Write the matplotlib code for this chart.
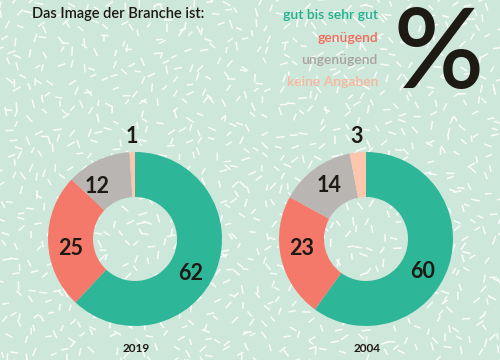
import numpy as np
import matplotlib.pyplot as plt
from matplotlib.collections import LineCollection

# Aggregate survey shares (%), clockwise from the top
categories = ["gut bis sehr gut", "genügend", "ungenügend", "keine Angaben"]
years = ["2019", "2004"]
values_2019 = [62, 25, 12, 1]
values_2004 = [60, 23, 14, 3]

colors = ["#2db697", "#f4796a", "#b9b5b2", "#fdc6ad"]
text_colors = ["#23b08f", "#f26a5a", "#a8a3a0", "#f9b79c"]
BG = "#cde7da"
DARK = "#1d1a14"
FONT = ["Lato", "DejaVu Sans"]

# small angle nudges (degrees) for the value labels, as in the original layout
nudges = [[-10, 7, 11, 0], [-12, -4, -1, 0]]

fig = plt.figure(figsize=(5, 3.6), dpi=100)
fig.patch.set_facecolor(BG)
ax = fig.add_axes([0, 0, 1, 1])
ax.set_facecolor(BG)
ax.axis("off")

# Decorative confetti-dash texture (jittered grid so it stays evenly spread)
rng = np.random.default_rng(11)
gx, gy = np.meshgrid(np.arange(-6, 510, 13), np.arange(-6, 370, 13))
x0 = gx.ravel() + rng.uniform(-6, 6, gx.size)
y0 = gy.ravel() + rng.uniform(-6, 6, gx.size)
ang = rng.uniform(0, np.pi, gx.size)
ln = rng.uniform(6, 9, gx.size)
segs = np.stack([
    np.column_stack([x0, y0]),
    np.column_stack([x0 + ln * np.cos(ang), y0 + ln * np.sin(ang)]),
], axis=1)
ax.add_collection(LineCollection(segs, colors="white", linewidths=1.1,
                                 alpha=0.9, zorder=0))

centers = [(135, 121), (366, 121)]
radius = 87
ring = 45

for vals, (cx, cy), year, nud in zip([values_2019, values_2004], centers,
                                     years, nudges):
    wedges, _ = ax.pie(vals, colors=colors, startangle=90, counterclock=False,
                       center=(cx, cy), radius=radius, frame=True,
                       wedgeprops=dict(width=ring, linewidth=0))
    for w, v, d in zip(wedges, vals, nud):
        mid = np.deg2rad((w.theta1 + w.theta2) / 2 + d)
        r = radius + 16 if v < 5 else radius - ring / 2 + 0.5
        ax.text(cx + r * np.cos(mid), cy + r * np.sin(mid), str(v),
                ha="center", va="center", fontsize=15.5, fontweight="bold",
                color=DARK, family=FONT, zorder=5)
    ax.text(cx + 1, 11, year, ha="center", va="center", fontsize=8.5,
            fontweight="bold", color=DARK, family=FONT)

ax.set_xlim(0, 500)
ax.set_ylim(0, 360)
ax.set_aspect("auto")

ax.text(32, 346, "Das Image der Branche ist:", ha="left", va="center",
        fontsize=10.5, fontweight="semibold", color=DARK, family=FONT)

for i, (cat, col) in enumerate(zip(categories, text_colors)):
    ax.text(378, 345 - i * 22.5, cat, ha="right", va="center",
            fontsize=10, fontweight="semibold", color=col, family=FONT)

ax.text(439, 304, "%", ha="center", va="center", fontsize=80,
        fontweight="semibold", color=DARK, family=FONT)

fig.savefig("out.png", dpi=100, facecolor=BG)
